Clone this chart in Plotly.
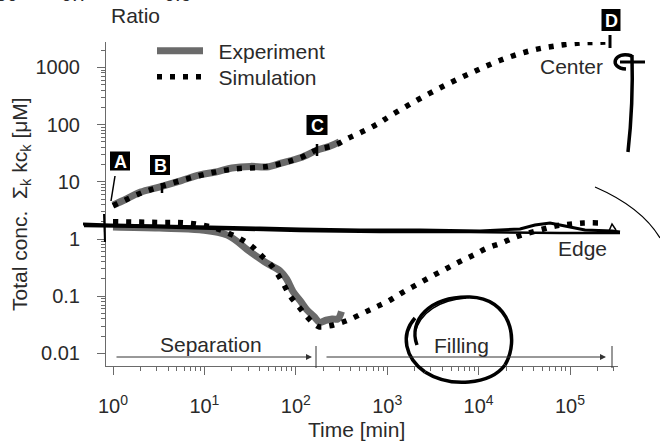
import plotly.graph_objects as go

# ---------------- data ----------------
# Center (upper curve)
center_exp_t = [1, 1.4, 2.0, 3.2, 5.6, 8.9, 14, 20, 32, 48, 71, 112, 170, 234, 300]
center_exp_v = [3.9, 5.0, 6.6, 8.1, 10.5, 13.2, 15.1, 17.4, 18.6, 18.2, 21.4, 26.3, 35.5, 41.7, 50]

center_sim_t = [1, 2.0, 3.2, 8.9, 20, 50, 112, 170, 269, 372, 525, 776, 1070, 2140, 4470,
                8710, 17000, 36300, 72400, 138000, 214000, 269000]
center_sim_v = [3.8, 6.3, 8.1, 12.9, 16.6, 18.6, 26.3, 36.3, 43.7, 57.5, 74, 102, 141, 269, 501,
                832, 1318, 1950, 2400, 2690, 2750, 2790]

# Edge (lower curve)
edge_exp_t = [1, 3.2, 8.9, 17.8, 31.6, 47.9, 67.6, 79.4, 93.3, 112, 132, 158, 182, 214, 251, 288, 316]
edge_exp_v = [1.62, 1.55, 1.45, 1.17, 0.60, 0.38, 0.275, 0.20, 0.12, 0.083, 0.058, 0.044, 0.035,
              0.038, 0.040, 0.040, 0.054]

edge_sim_t = [1, 3.16, 6.5, 12.6, 20.4, 31.6, 41.7, 56.2, 70.8, 87.1, 110, 132, 158, 182, 224, 269,
              372, 550, 759, 1070, 1480, 2140, 3090, 4370, 6170, 8710, 12300, 17800, 25100, 34700,
              50100, 70800, 100000, 141000, 204000]
edge_sim_v = [2.0, 1.95, 1.9, 1.58, 1.17, 0.79, 0.52, 0.32, 0.18, 0.10, 0.063, 0.044, 0.033, 0.029,
              0.030, 0.032, 0.038, 0.051, 0.065, 0.085, 0.117, 0.162, 0.224, 0.30, 0.40, 0.52, 0.69,
              0.85, 1.07, 1.26, 1.48, 1.70, 1.82, 1.91, 1.91]

x_tickvals = [1, 10, 100, 1000, 10000, 100000]
x_ticktext = ["10<sup>0</sup>", "10<sup>1</sup>", "10<sup>2</sup>", "10<sup>3</sup>",
              "10<sup>4</sup>", "10<sup>5</sup>"]
y_tickvals = [0.01, 0.1, 1, 10, 100, 1000]
y_ticktext = ["0.01", "0.1", "1", "10", "100", "1000"]

# ---------------- layout geometry ----------------
W, H = 660, 442
L, R, T, B = 106, 618, 42, 366
FONT = "Liberation Sans, Arial, sans-serif"
TXT = "#2a2a2a"
AX = "#6a6a6a"


def px(x):
    return (x - L) / (R - L)


def py(y):
    return (B - y) / (B - T)


def P(x, y):
    return f"{px(x):.4f},{py(y):.4f}"


def path(*pts, curve=False):
    s = "M " + P(*pts[0])
    if curve:
        rest = pts[1:]
        s += " C " + " ".join(P(*p) for p in rest)
    else:
        s += "".join(" L " + P(*p) for p in pts[1:])
    return s


GRAY = "#6a6a6a"
DOT = "5px,8px"
SP = "\u2002"

fig = go.Figure()
fig.add_trace(go.Scatter(x=center_exp_t, y=center_exp_v, mode="lines", name=SP + "Experiment",
                         line=dict(color=GRAY, width=7, shape="spline"), showlegend=True,
                         legend="legend"))
fig.add_trace(go.Scatter(x=edge_exp_t, y=edge_exp_v, mode="lines", name="Experiment",
                         line=dict(color=GRAY, width=7, shape="spline"), showlegend=False))
fig.add_trace(go.Scatter(x=center_sim_t, y=center_sim_v, mode="lines", name=SP + "Simulation",
                         line=dict(color="black", width=5.5, dash=DOT, shape="spline"), showlegend=True,
                         legend="legend2"))
fig.add_trace(go.Scatter(x=edge_sim_t, y=edge_sim_v, mode="lines", name="Simulation",
                         line=dict(color="black", width=5.5, dash=DOT, shape="spline"), showlegend=False))

minor_x = [m * 10 ** e for e in range(0, 6) for m in range(2, 10)]
minor_y = [m * 10 ** e for e in range(-2, 4) for m in range(2, 10)]

fig.update_xaxes(type="log", range=[(L - 113) / 91.4, (R - 113) / 91.4],
                 tickvals=x_tickvals, ticktext=x_ticktext, ticks="outside", ticklen=8,
                 tickcolor=AX, showline=True, linecolor=AX, linewidth=1, showgrid=False,
                 zeroline=False, ticklabelstandoff=14,
                 tickfont=dict(family=FONT, size=20, color=TXT),
                 minor=dict(tickvals=minor_x, ticks="outside", ticklen=4, tickcolor=AX, showgrid=False))
fig.update_yaxes(type="log", range=[(239 - B) / 57.2, (239 - T) / 57.2],
                 tickvals=y_tickvals, ticktext=y_ticktext, ticks="outside", ticklen=8,
                 tickcolor=AX, showline=True, linecolor=AX, linewidth=1, showgrid=False,
                 zeroline=False, ticklabelstandoff=13,
                 tickfont=dict(family=FONT, size=20, color=TXT),
                 minor=dict(tickvals=minor_y, ticks="outside", ticklen=4, tickcolor=AX, showgrid=False))

ann = []


def text(x, y, s, size=20, color=TXT, **kw):
    d = dict(x=px(x), y=py(y), xref="paper", yref="paper", text=s, showarrow=False,
             xanchor="center", yanchor="middle",
             font=dict(family=FONT, size=size, color=color))
    d.update(kw)
    ann.append(d)


text(356, 429, "Time [min]", size=21)
text(21, 204, "Total conc.  Σ<sub>k</sub> kc<sub>k</sub> [μM]", size=21, textangle=-90)
text(135, 15, "Ratio", size=21)
text(20, 7, "0.50", xanchor="right", yanchor="bottom")
text(75, 7, "0.7", yanchor="bottom")
text(178, 7, "0.9", yanchor="bottom")
text(605, 66, "Center", size=21, xanchor="right")
text(582, 249, "Edge", size=21)
text(211, 344, "Separation", size=21)
text(461, 345, "Filling", size=21)

shapes = []

for lab, x, y, w, h in [("A", 120, 161, 20, 19), ("B", 160, 165, 20, 20),
                        ("C", 317, 125, 21, 20), ("D", 611, 20, 19, 22)]:
    shapes.append(dict(type="rect", xref="paper", yref="paper", x0=px(x - w / 2), x1=px(x + w / 2),
                       y0=py(y + h / 2), y1=py(y - h / 2), fillcolor="black",
                       line=dict(width=0), layer="above"))
    text(x, y + 1, f"<b>{lab}</b>", size=18, color="white")

# arrows
for x0, x1 in [(115, 312), (325, 606)]:
    ann.append(dict(x=px(x1), y=py(357), ax=-(x1 - x0), ay=0, xref="paper", yref="paper",
                    axref="pixel", ayref="pixel", text="", showarrow=True, arrowhead=2,
                    arrowsize=1.2, arrowwidth=1, arrowcolor="#333"))


def seg(x0, y0, x1, y1, w=1, c="#333"):
    shapes.append(dict(type="line", xref="paper", yref="paper", x0=px(x0), y0=py(y0),
                       x1=px(x1), y1=py(y1), line=dict(color=c, width=w)))


seg(316, 346, 316, 368)
seg(612, 346, 612, 368)
seg(115, 176, 111, 201, w=1.5, c="black")      # A pointer
seg(162, 183, 162, 193, w=2.5, c="black")      # B tick
seg(317, 144, 317, 156, w=2.5, c="black")      # C tick
seg(610, 35, 610, 48, w=3, c="black")          # D tick


def scribble(d, w=3, c="black"):
    shapes.append(dict(type="path", xref="paper", yref="paper", path=d, layer="above",
                       line=dict(color=c, width=w)))


# hand-drawn strokes
scribble(path((83, 224), (110, 225), (160, 226), (210, 227), (260, 228), (300, 229), (360, 230),
              (420, 230), (480, 231), (520, 229), (535, 225), (550, 223), (565, 226), (585, 230),
              (612, 231), (620, 232)), w=3)
scribble(path((84, 226), (150, 227), (220, 229), (300, 231), (380, 232), (470, 232), (560, 233),
              (620, 233)), w=2.5)
scribble(path((609, 231), (612, 224), (616, 230)), w=1.5)
scribble(path((104, 214), (105, 242)), w=2)
scribble(path((632, 56), (614, 50), (608, 68), (626, 69), curve=True), w=3.5)
scribble(path((620, 62), (645, 62)), w=3)
scribble(path((632, 55), (633, 90), (631, 125), (628, 152), curve=True), w=3.5)
scribble(path((595, 187), (625, 200), (648, 218), (660, 238), curve=True), w=1.2)
scribble(path((417, 345), (408, 320), (430, 296), (470, 297), curve=True), w=3.5)
scribble(path((470, 297), (510, 298), (520, 340), (505, 365), curve=True), w=3.5)
scribble(path((505, 365), (490, 385), (450, 388), (425, 372), curve=True), w=3.5)
scribble(path((425, 372), (405, 358), (400, 335), (415, 318), curve=True), w=3.5)
scribble(path((415, 333), (420, 312), (440, 300), (466, 298), curve=True), w=1.5)

leg = dict(x=px(152), xanchor="left", yanchor="middle", bgcolor="rgba(0,0,0,0)",
           font=dict(family=FONT, size=21, color=TXT), itemwidth=46, borderwidth=0)

fig.update_layout(
    width=W, height=H, margin=dict(l=L, r=W - R, t=T, b=H - B),
    paper_bgcolor="white", plot_bgcolor="white",
    font=dict(family=FONT, size=20, color=TXT),
    legend=dict(leg, y=py(51)),
    legend2=dict(leg, y=py(77)),
    annotations=ann, shapes=shapes,
)

fig.write_html("out.html")
